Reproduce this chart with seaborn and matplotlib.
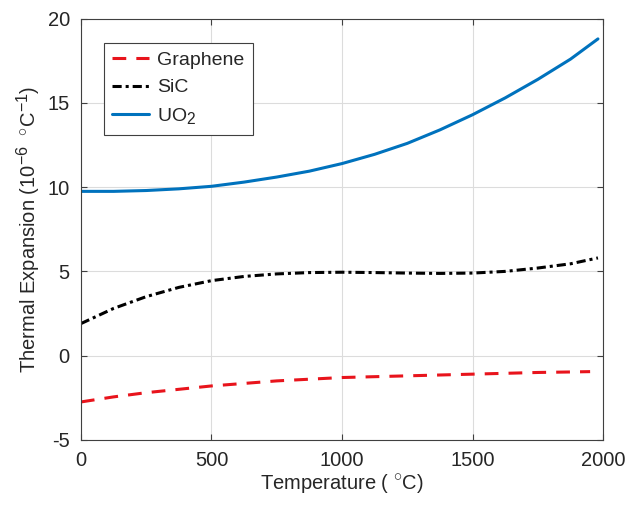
import numpy as np
import pandas as pd
import matplotlib
matplotlib.use("Agg")
import matplotlib.pyplot as plt
import matplotlib._mathtext as mt
import seaborn as sns

# temperatures (deg C) and values
temp = [0, 125, 250, 375, 500, 625, 750, 875, 1000, 1125, 1250, 1375, 1500, 1625, 1750, 1875, 1980]
temp_gr = [0, 125, 250, 375, 500, 625, 750, 875, 1000, 1125, 1250, 1375, 1500, 1625, 1750, 1875, 1950]

graphene = [-2.75, -2.45, -2.2, -2.0, -1.8, -1.65, -1.5, -1.4, -1.3, -1.25, -1.2, -1.15, -1.1, -1.05, -1.0, -0.97, -0.95]
sic = [1.9, 2.8, 3.5, 4.05, 4.45, 4.7, 4.85, 4.93, 4.95, 4.93, 4.9, 4.88, 4.9, 5.0, 5.2, 5.45, 5.8]
uo2 = [9.75, 9.75, 9.8, 9.9, 10.05, 10.3, 10.6, 10.95, 11.4, 11.95, 12.6, 13.4, 14.3, 15.3, 16.4, 17.6, 18.8]

xticks = [0, 500, 1000, 1500, 2000]
yticks = [-5, 0, 5, 10, 15, 20]

sns.set_style("white")
plt.rcParams['font.family'] = ['Liberation Sans', 'DejaVu Sans']
plt.rcParams['mathtext.fontset'] = 'custom'
plt.rcParams['mathtext.rm'] = 'Liberation Sans'
plt.rcParams['mathtext.it'] = 'Liberation Sans'
plt.rcParams['axes.unicode_minus'] = False
# matlab-style tex draws super/subscripts a bit bigger
mt.SHRINK_FACTOR = 0.8

fig = plt.figure(figsize=(6.27, 5.05), dpi=100)
ax = fig.add_axes([0.129, 0.129, 0.833, 0.834])

df_gr = pd.DataFrame({"T": temp_gr, "v": graphene})
df_sic = pd.DataFrame({"T": temp, "v": sic})
df_uo2 = pd.DataFrame({"T": temp, "v": uo2})

sns.lineplot(data=df_gr, x="T", y="v", ax=ax, color="#e8141c", lw=2.2, label="Graphene")
ax.lines[-1].set_dashes([4.5, 3.3])
sns.lineplot(data=df_sic, x="T", y="v", ax=ax, color="black", lw=2.2, label="SiC")
ax.lines[-1].set_dashes([3, 1.3, 1, 1.3])
sns.lineplot(data=df_uo2, x="T", y="v", ax=ax, color="#0072bd", lw=2.2, label="UO$_2$")

ax.set_xlim(0, 2000)
ax.set_ylim(-5, 20)
ax.set_xticks(xticks)
ax.set_yticks(yticks)
ax.grid(True, color="#dcdcdc", lw=0.8)
ax.tick_params(direction="in", length=4, color="#404040", labelsize=14.5, labelcolor="#262626",
               top=True, right=True, bottom=True, left=True, pad=8)
for s in ax.spines.values():
    s.set_color("#404040")
    s.set_linewidth(0.8)

ax.set_xlabel("Temperature ( $^{\\circ}$C)", fontsize=14.5, color="#262626", labelpad=2)
ax.set_ylabel("Thermal Expansion (10$^{-6}$ $\\;^{\\circ}$C$^{-1}$)", fontsize=14.5, color="#262626", labelpad=3)

leg = ax.legend(loc="upper left", fontsize=14, handlelength=1.9, frameon=True, fancybox=False,
                borderpad=0.45, labelspacing=0.5, handletextpad=0.4, bbox_to_anchor=(0.025, 0.966))
leg.get_frame().set_edgecolor("#404040")
leg.get_frame().set_linewidth(0.8)
leg.get_frame().set_alpha(1)

fig.savefig("out.png", dpi=100)
